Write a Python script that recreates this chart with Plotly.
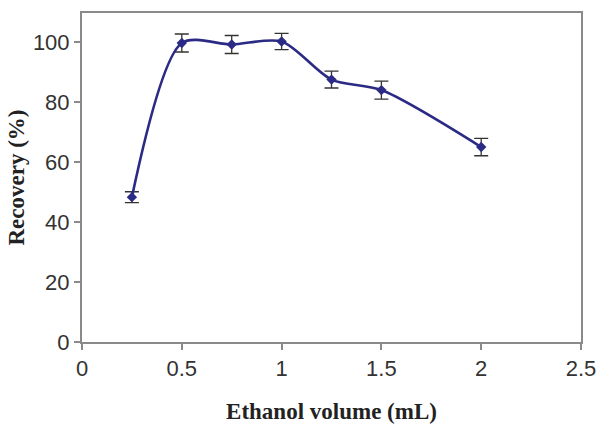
import plotly.graph_objects as go

volume = [0.25, 0.5, 0.75, 1.0, 1.25, 1.5, 2.0]
recovery = [48.3, 99.7, 99.2, 100.2, 87.5, 84.0, 65.0]
err = [1.8, 3.0, 3.0, 2.7, 2.8, 3.0, 2.9]

x_ticks = [0, 0.5, 1, 1.5, 2, 2.5]
x_tick_text = ["0", "0.5", "1", "1.5", "2", "2.5"]
y_ticks = [0, 20, 40, 60, 80, 100]

navy = "#2b2b86"
fig = go.Figure()
fig.add_trace(go.Scatter(
    x=volume, y=recovery, mode="lines+markers",
    line=dict(color=navy, width=2.6, shape="spline", smoothing=0.8),
    marker=dict(symbol="diamond", size=8, color=navy),
    error_y=dict(type="data", array=err, visible=True, color="#333333", thickness=1.3, width=7),
    showlegend=False,
))

axis_common = dict(
    showgrid=False, zeroline=False, showline=True, linecolor="#8a8a8a", linewidth=2,
    mirror=True, ticks="outside", ticklen=6, tickcolor="#8a8a8a", tickwidth=1.5,
    automargin=False,
    tickfont=dict(family="Liberation Sans, Arial, sans-serif", size=22, color="#333333"),
)
title_font = dict(family="Liberation Serif, Times New Roman, serif", size=23, color="#222222")
fig.update_xaxes(range=[0, 2.5], tickvals=x_ticks, ticktext=x_tick_text,
                 title=dict(text="<b>Ethanol volume (mL)</b>", standoff=28, font=title_font),
                 **axis_common)
fig.update_yaxes(range=[0, 109.7], tickvals=y_ticks,
                 title=dict(text="<b>Recovery (%)</b>", standoff=2, font=title_font),
                 **axis_common)
fig.update_layout(
    width=597, height=424, margin=dict(l=82, r=16, t=13, b=82),
    paper_bgcolor="white", plot_bgcolor="white",
)
fig.write_html("out.html")
